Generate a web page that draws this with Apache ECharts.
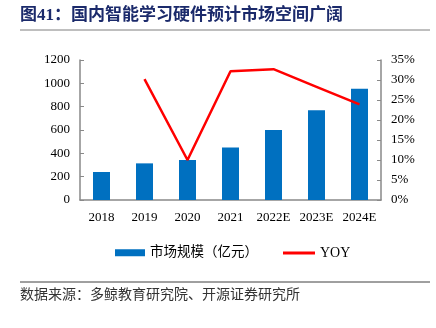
<!DOCTYPE html>
<html><head><meta charset="utf-8">
<script src="https://cdn.jsdelivr.net/npm/echarts@6/dist/echarts.min.js"></script>
<style>html,body{margin:0;padding:0;background:#fff}#c{width:436px;height:328px}</style>
</head><body><div id="c"></div>
<script>
const categories = ['2018','2019','2020','2021','2022E','2023E','2024E'];
const marketSize = [240, 314, 343, 451, 600, 769, 954];
const yoy = [null, 30.2, 10.0, 32.2, 32.7, 28.3, 23.9];
const titleText = '图41：国内智能学习硬件预计市场空间广阔';
const sourceText = '数据来源：多鲸教育研究院、开源证券研究所';

const serif = '"Liberation Serif","DejaVu Serif",serif';
const cjk = '"Liberation Serif","Noto Sans CJK SC",serif';
const axisColor = '#898989';
const chart = echarts.init(document.getElementById('c'), null, {renderer:'canvas'});
chart.setOption({
  animation:false,
  grid:{left:80,right:55,top:60,bottom:128},
  graphic:[
    {type:'text',left:20,top:7,style:{text:titleText,fill:'#1b2a6b',font:'bold 17px '+cjk}},
    {type:'line',shape:{x1:20,y1:30,x2:430,y2:30},style:{stroke:'#7f7f7f',lineWidth:1}},
    {type:'line',shape:{x1:20,y1:282,x2:430,y2:282},style:{stroke:'#404040',lineWidth:1}},
    {type:'text',left:20,top:288,style:{text:sourceText,fill:'#333',font:'14px '+cjk}}
  ],
  legend:[
    {left:110,top:241,itemWidth:30,itemHeight:7,
     textStyle:{fontFamily:cjk,fontSize:13.5,color:'#000'},
     data:[{name:'市场规模（亿元）',icon:'rect'}]},
    {left:278,top:241,itemWidth:32,itemHeight:3,
     textStyle:{fontFamily:serif,fontSize:14,color:'#000'},
     data:[{name:'YOY',icon:'rect'}]}
  ],
  xAxis:{
    type:'category',data:categories,
    axisLine:{lineStyle:{color:axisColor,width:1.5}},
    axisTick:{inside:true,length:4,lineStyle:{color:axisColor}},
    axisLabel:{color:'#000',fontFamily:serif,fontSize:13,margin:11,interval:0}
  },
  yAxis:[
    {type:'value',min:0,max:1200,interval:200,
     axisLine:{show:true,lineStyle:{color:axisColor,width:1.5}},
     axisTick:{show:true,inside:true,length:4,lineStyle:{color:axisColor}},
     splitLine:{show:false},
     axisLabel:{color:'#000',fontFamily:serif,fontSize:13,margin:10,formatter:v=>String(v)}},
    {type:'value',min:0,max:35,interval:5,position:'right',
     axisLine:{show:true,lineStyle:{color:axisColor,width:1.5}},
     axisTick:{show:true,inside:true,length:4,lineStyle:{color:axisColor}},
     splitLine:{show:false},
     axisLabel:{color:'#000',fontFamily:serif,fontSize:13,margin:10,formatter:v=>v+'%'}}
  ],
  series:[
    {name:'市场规模（亿元）',type:'bar',data:marketSize,barWidth:17,itemStyle:{color:'#0070c0'}},
    {name:'YOY',type:'line',yAxisIndex:1,data:yoy,symbol:'none',connectNulls:false,
     lineStyle:{color:'#ff0000',width:2.5},itemStyle:{color:'#ff0000'}}
  ]
});
</script></body></html>
